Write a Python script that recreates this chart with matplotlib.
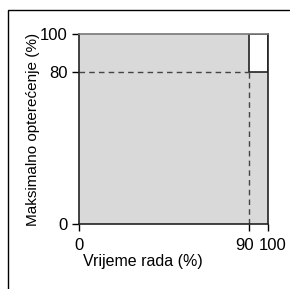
import matplotlib
matplotlib.use("Agg")
import matplotlib.pyplot as plt
import matplotlib.transforms as mtransforms
from matplotlib.patches import Rectangle

# data
x_left = [0, 90]
x_width = [90, 10]
shade_top = [100, 80]
limit_x = 90
limit_y = 80
x_ticks = [0, 90, 100]
y_ticks = [0, 80, 100]

plt.rcParams['font.family'] = ['Liberation Sans', 'DejaVu Sans']

fig = plt.figure(figsize=(2.9, 2.89), dpi=100)
ax = fig.add_axes([79/290, 65/289, 189/290, 190/289])

# gray area under the limit
ax.bar(x_left, shade_top, width=x_width, align='edge', color='#d9d9d9', linewidth=0)
# white box above the limit
ax.bar(limit_x, 100 - limit_y, bottom=limit_y, width=100 - limit_x, align='edge',
       facecolor='white', edgecolor='#222222', linewidth=1.2)

# dashed guides
ax.plot([0, limit_x], [limit_y, limit_y], ls=(0, (4, 3)), color='#444444', lw=1)
ax.plot([limit_x, limit_x], [0, limit_y], ls=(0, (4, 3)), color='#444444', lw=1)

ax.set_xlim(0, 100)
ax.set_ylim(0, 100)
ax.set_xticks(x_ticks)
ax.set_yticks(y_ticks)
ax.tick_params(direction='out', length=5, width=1, labelsize=12, pad=3)
ax.tick_params(axis='x', pad=5)
for s in ax.spines.values():
    s.set_color('#222222')
    s.set_linewidth(1.2)
ax.spines['top'].set_color('#777777')

# nudge the crowded 90 / 100 labels apart
labels = ax.get_xticklabels()
labels[1].set_transform(labels[1].get_transform() + mtransforms.ScaledTranslation(-3/72, 0, fig.dpi_scale_trans))
labels[2].set_transform(labels[2].get_transform() + mtransforms.ScaledTranslation(3/72, 0, fig.dpi_scale_trans))

ax.set_xlabel("Vrijeme rada (%)", fontsize=11.5)
ax.xaxis.set_label_coords(0.34, -0.16)
ax.set_ylabel("Maksimalno opterećenje (%)", fontsize=11)
ax.yaxis.set_label_coords(-0.205, 0.5)

# outer frame
fig.patches.append(Rectangle((8/290, -0.1), 1.1, (289 - 10)/289 + 0.1, transform=fig.transFigure,
                             fill=False, edgecolor='black', linewidth=1))

fig.savefig("out.png", dpi=100)
